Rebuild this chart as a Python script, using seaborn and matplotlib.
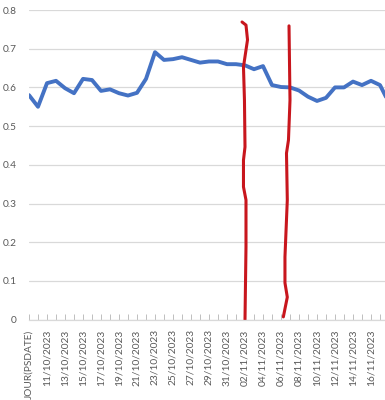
import matplotlib
matplotlib.use("Agg")
import matplotlib.pyplot as plt
import seaborn as sns
import pandas as pd
import numpy as np

# Categories (first category is the pivot header label)
categories = ["JOUR(PSDATE)"] + [
    f"{d:02d}/10/2023" for d in range(10, 32)
] + [f"{d:02d}/11/2023" for d in range(1, 19)]

values = [0.580, 0.550, 0.611, 0.617, 0.598, 0.585, 0.622, 0.619, 0.591, 0.595,
          0.585, 0.579, 0.586, 0.622, 0.691, 0.671, 0.673, 0.678, 0.671, 0.664,
          0.667, 0.667, 0.660, 0.660, 0.657, 0.647, 0.655, 0.606, 0.601, 0.600,
          0.592, 0.576, 0.565, 0.573, 0.600, 0.600, 0.615, 0.606, 0.617, 0.606,
          0.560]

# Hand-drawn red annotation strokes (category position, value)
red1_x = [23.67, 24.11, 24.28, 23.83, 23.94, 24.0, 23.83, 23.83, 24.11, 24.11, 24.0]
red1_y = [0.769, 0.761, 0.723, 0.653, 0.567, 0.446, 0.412, 0.343, 0.309, 0.188, 0.0]
red2_x = [28.89, 29.0, 28.83, 28.61, 28.7, 28.44, 28.44, 28.7, 28.26]
red2_y = [0.759, 0.567, 0.464, 0.430, 0.309, 0.162, 0.095, 0.058, 0.007]

sns.set_theme(style="white")
plt.rcParams['font.family'] = ['Lato', 'DejaVu Sans']

n = len(values)
df = pd.DataFrame({"pos": np.arange(n), "value": values})

fig = plt.figure(figsize=(3.85, 4.0), dpi=100)
ax = fig.add_axes([29 / 385, 80.4 / 400, 356 / 385, 309.6 / 400])

sns.lineplot(data=df, x="pos", y="value", color="#4472C4", linewidth=2.8, ax=ax,
             solid_capstyle="round", solid_joinstyle="round")
sns.lineplot(x=red1_x, y=red1_y, sort=False, estimator=None, color="#C8161D",
             linewidth=2.2, ax=ax, solid_capstyle="round")
sns.lineplot(x=red2_x, y=red2_y, sort=False, estimator=None, color="#C8161D",
             linewidth=2.2, ax=ax, solid_capstyle="round")

ax.set_yticks(np.arange(0, 0.81, 0.1))
ax.set_yticklabels(["0"] + [f"{v:.1f}" for v in np.arange(0.1, 0.81, 0.1)])
ax.grid(axis="y", color="#d9d9d9", linewidth=0.9)
ax.set_axisbelow(True)

ax.set_xticks(np.arange(n))
ax.set_xticklabels([c if i % 2 == 0 else "" for i, c in enumerate(categories)],
                   rotation=90)
ax.set_xlim(0, 356 / 9)
ax.set_ylim(0, 0.8)
ax.tick_params(axis="x", direction="in", length=4, width=0.7, color="#bfbfbf",
               pad=7, labelsize=7.3, labelcolor="#595959", bottom=True)
ax.tick_params(axis="y", length=0, pad=9, labelsize=7.3, labelcolor="#595959")

for s in ["top", "right", "left"]:
    ax.spines[s].set_visible(False)
ax.spines["bottom"].set_color("#d9d9d9")
ax.spines["bottom"].set_linewidth(0.9)
ax.set_xlabel("")
ax.set_ylabel("")

fig.savefig("out.png", dpi=100)
